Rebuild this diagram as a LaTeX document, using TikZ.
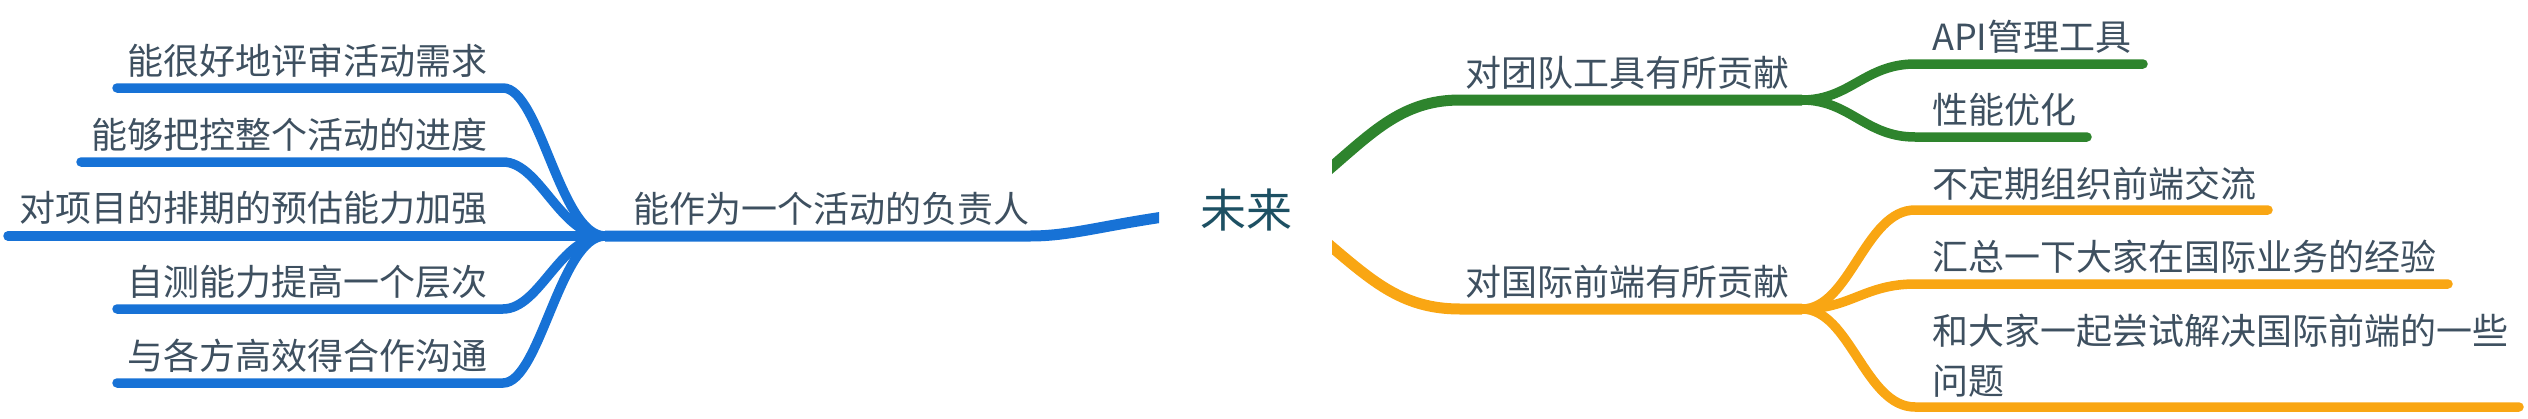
\documentclass[tikz,border=0pt]{standalone}
\usepackage{fontspec}
\setmainfont{Noto Sans CJK SC}
\definecolor{bblue}{HTML}{1772D6}
\definecolor{ggreen}{HTML}{2E842D}
\definecolor{oorange}{HTML}{F9A613}
\definecolor{txtc}{HTML}{3E5060}
\definecolor{rootc}{HTML}{1D5063}
\begin{document}
\begin{tikzpicture}[x=1pt,y=-1pt,
  lbl/.style={inner sep=0pt, text=txtc, font=\fontsize{36}{50}\selectfont},
  rootlbl/.style={inner sep=0pt, text=rootc, font=\fontsize{46}{56}\selectfont},
  subline/.style={line width=9.5pt, line cap=round},
  mainline/.style={line width=11pt, line cap=butt}]
\useasboundingbox (0,0) rectangle (2528,418);

% nodes
\node[rootlbl, anchor=base] (root) at (1246,227) {未来};
\node[lbl, anchor=base west] (b1) at (633,222.5) {能作为一个活动的负责人};
\node[lbl, anchor=base east] (l1) at (488,74.5) {能很好地评审活动需求};
\node[lbl, anchor=base east] (l2) at (488,148.5) {能够把控整个活动的进度};
\node[lbl, anchor=base east] (l3) at (488,221.5) {对项目的排期的预估能力加强};
\node[lbl, anchor=base east] (l4) at (488,295.5) {自测能力提高一个层次};
\node[lbl, anchor=base east] (l5) at (488,369.5) {与各方高效得合作沟通};
\node[lbl, anchor=base west] (g) at (1465,86.5) {对团队工具有所贡献};
\node[lbl, anchor=base west] (o) at (1465,295.5) {对国际前端有所贡献};
\node[lbl, anchor=base west] (g1) at (1932,50.5) {API管理工具};
\node[lbl, anchor=base west] (g2) at (1932,123.5) {性能优化};
\node[lbl, anchor=base west] (o1) at (1932,197.5) {不定期组织前端交流};
\node[lbl, anchor=base west] (o2) at (1932,270.5) {汇总一下大家在国际业务的经验};
\node[lbl, anchor=base west] (o3) at (1932,344.5) {\vtop{\baselineskip=50pt\lineskiplimit=-100pt\hbox{和大家一起尝试解决国际前端的一些}\hbox{问题}}};

% coordinates
\coordinate (rootL) at (1170,216);
\coordinate (rootG) at (1320,177);
\coordinate (rootO) at (1320,237);
\coordinate (Jb) at (605,236);
\coordinate (Jg) at (1802,100);
\coordinate (Jo) at (1802,309);
\coordinate (l1e) at (117,88);
\coordinate (l2e) at (81,162);
\coordinate (l3e) at (8,236);
\coordinate (l4e) at (117,309);
\coordinate (l5e) at (117,383);
\coordinate (g1e) at (2143,64);
\coordinate (g2e) at (2087,137);
\coordinate (o1e) at (2268,210);
\coordinate (o2e) at (2448,284);
\coordinate (o3e) at (2519,407);

% main branches
\begin{scope}
\clip (0,0) rectangle (1159,418);
\draw[mainline,bblue] (rootL) .. controls (1100,226) and (1070,236) .. (1030,236) -- (Jb);
\end{scope}
\begin{scope}
\clip (1332,0) rectangle (2528,418);
\draw[mainline,ggreen] (rootG) .. controls (1370,135) and (1400,100) .. (1460,100) -- (Jg);
\draw[mainline,oorange] (rootO) .. controls (1370,279) and (1400,309) .. (1460,309) -- (Jo);
\end{scope}

% blue children
\draw[subline,bblue] (l1e) -- (503,88) .. controls (540,88) and (560,236) .. (Jb);
\draw[subline,bblue] (l2e) -- (503,162) .. controls (540,162) and (560,236) .. (Jb);
\draw[subline,bblue] (l3e) -- (Jb);
\draw[subline,bblue] (l4e) -- (503,309) .. controls (540,309) and (560,236) .. (Jb);
\draw[subline,bblue] (l5e) -- (503,383) .. controls (540,383) and (560,236) .. (Jb);

% green children
\draw[subline,ggreen] (Jg) .. controls (1850,100) and (1865,64) .. (1915,64) -- (g1e);
\draw[subline,ggreen] (Jg) .. controls (1850,100) and (1865,137) .. (1915,137) -- (g2e);

% orange children
\draw[subline,oorange] (Jo) .. controls (1850,309) and (1865,210) .. (1915,210) -- (o1e);
\draw[subline,oorange] (Jo) .. controls (1850,309) and (1865,284) .. (1915,284) -- (o2e);
\draw[subline,oorange] (Jo) .. controls (1850,309) and (1865,407) .. (1915,407) -- (o3e);
\end{tikzpicture}
\end{document}
